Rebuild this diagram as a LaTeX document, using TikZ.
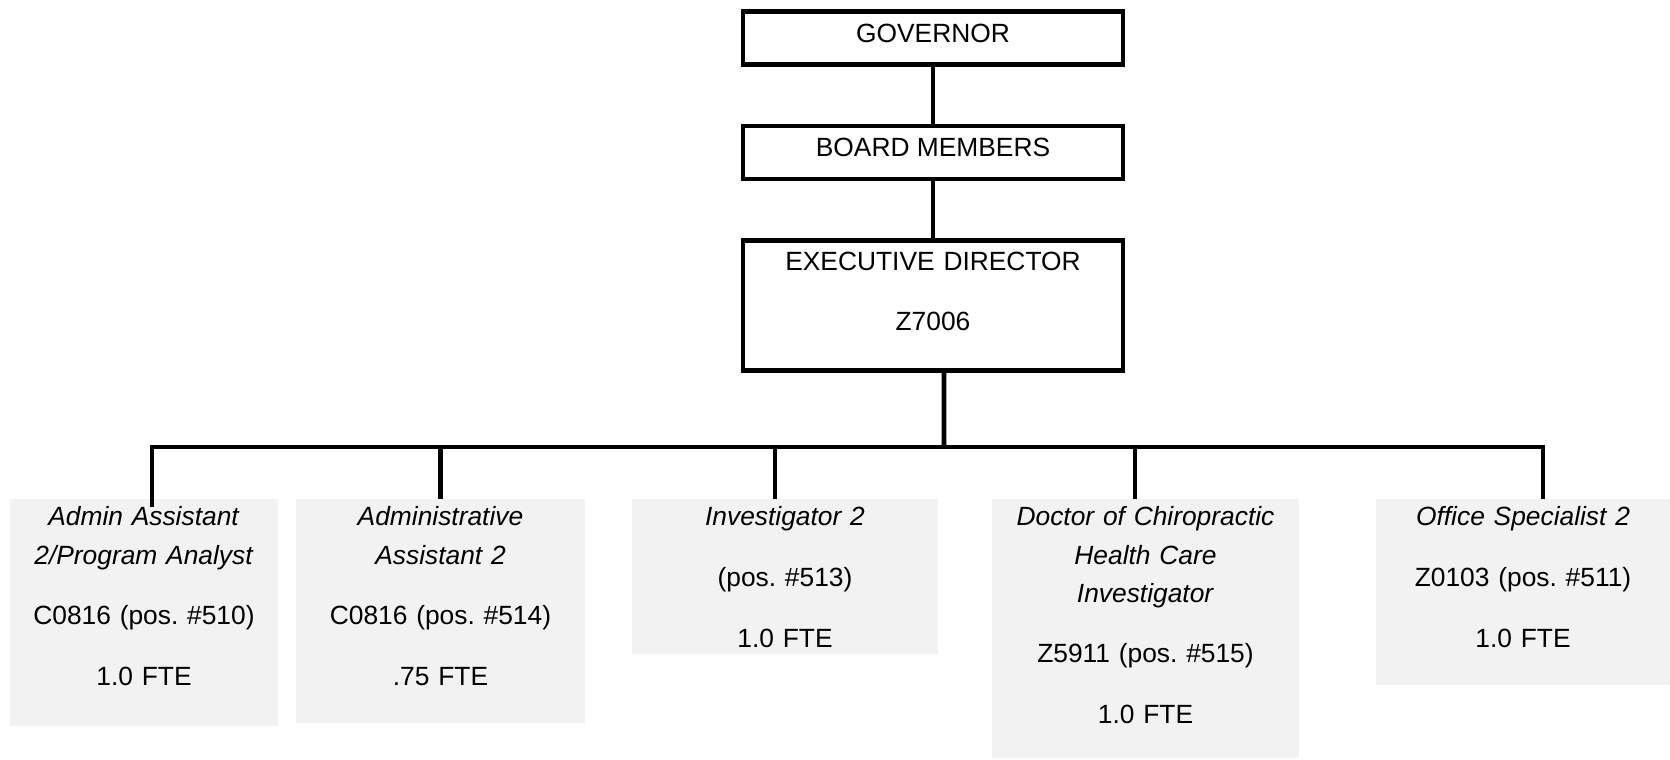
\documentclass[tikz,border=0pt]{standalone}
\usepackage{fontspec}
\setmainfont{Liberation Sans}
\usetikzlibrary{positioning}
\definecolor{PostGrey}{RGB}{242, 242, 242}
\tikzset{
  office/.style={
    rectangle, draw=black, line width=2.6pt,
    minimum width=7.6cm, minimum height=1.06cm,
    align=center, text depth=0.2cm
  },
  post/.style={
    rectangle, fill=PostGrey, anchor=north,
    text width=#1, inner xsep=0pt, inner ysep=0.15cm, align=center
  },
  link/.style={line width=2.6pt, color=black},
}
\frenchspacing

\begin{document}
\begin{tikzpicture}[font=\fontsize{15}{21.7}\selectfont, node distance=1.14cm]
\useasboundingbox (0,0) rectangle (33.4,-15.18);

\node[office] (gov) at (18.66,-0.76) {GOVERNOR};
\node[office, below=of gov] (board) {BOARD MEMBERS};
\node[office, below=of board, minimum height=2.6cm, text width=7cm, text depth=1.78cm] (exec) {
  EXECUTIVE DIRECTOR\\[0.45cm]
  Z7006
};

% Positions
\node[post=5.36cm, text depth=3.85cm] (p1) at (2.88,-9.98) {
  \textit{Admin Assistant}\\
  \textit{2/Program Analyst}\\[0.45cm]
  C0816 (pos. \#510)\\[0.45cm]
  1.0 FTE
};
\node[post=5.78cm, text depth=3.79cm] (p2) at (8.81,-9.98) {
  \textit{Administrative}\\
  \textit{Assistant 2}\\[0.45cm]
  C0816 (pos. \#514)\\[0.45cm]
  .75 FTE
};
\node[post=6.12cm, text depth=2.41cm] (p3) at (15.7,-9.98) {
  \textit{Investigator 2}\\[0.45cm]
  (pos. \#513)\\[0.45cm]
  1.0 FTE
};
\node[post=6.14cm, text depth=4.49cm] (p4) at (22.91,-9.98) {
  \textit{Doctor of Chiropractic}\\
  \textit{Health Care}\\
  \textit{Investigator}\\[0.45cm]
  Z5911 (pos. \#515)\\[0.45cm]
  1.0 FTE
};
\node[post=5.88cm, text depth=3.03cm] (p5) at (30.46,-9.98) {
  \textit{Office Specialist 2}\\[0.45cm]
  Z0103 (pos. \#511)\\[0.45cm]
  1.0 FTE
};

% Reporting lines
\draw[link] (gov) -- (board);
\draw[link] (board) -- (exec);
\coordinate (hub) at (18.88,-8.94);
\draw[link] ([xshift=0.22cm]exec.south) -- (hub);
\draw[link] (hub) -| ([xshift=0.16cm,yshift=-0.15cm]p1.north);
\draw[link] (hub) -| (p2.north);
\draw[link] (hub) -| ([xshift=-0.2cm]p3.north);
\draw[link] (hub) -| ([xshift=-0.21cm]p4.north);
\draw[link] (hub) -| ([xshift=0.4cm]p5.north);
\end{tikzpicture}
\end{document}
